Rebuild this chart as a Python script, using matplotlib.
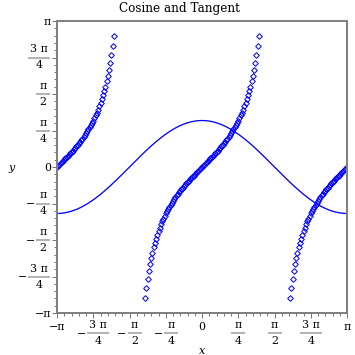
import numpy as np
import matplotlib
matplotlib.use("Agg")
import matplotlib.pyplot as plt
from matplotlib.lines import Line2D
from matplotlib.transforms import IdentityTransform

# sample points of the two curves
x_cos = np.linspace(-np.pi, np.pi, 400)
y_cos = np.cos(x_cos)
x_tan = np.linspace(-np.pi, np.pi, 241)
y_tan = np.tan(x_tan)
keep = np.abs(y_tan) <= 2.95
x_tan = x_tan[keep]
y_tan = y_tan[keep]

# ticks in units of pi, labels as (sign, numerator, denominator)
tick_vals = [-1, -0.75, -0.5, -0.25, 0, 0.25, 0.5, 0.75, 1]
tick_labels = [("−", "π", None), ("−", "3 π", "4"), ("−", "π", "2"),
               ("−", "π", "4"), ("", "0", None), ("", "π", "4"),
               ("", "π", "2"), ("", "3 π", "4"), ("", "π", None)]

W = H = 355
fig = plt.figure(figsize=(W / 72, H / 72), dpi=72)
ax = fig.add_axes([57 / W, (H - 313) / H, 290 / W, 292 / H])

ax.plot(x_cos, y_cos, color="#0000ff", lw=1.3)
ax.plot(x_tan, y_tan, ls="none", marker="D", ms=4, mfc="none",
        mec="#0000ff", mew=1)

ax.set_xlim(-np.pi, np.pi)
ax.set_ylim(-np.pi, np.pi)
ticks = [v * np.pi for v in tick_vals]
ax.set_xticks(ticks)
ax.set_yticks(ticks)
ax.set_xticks(np.arange(-20, 21) * np.pi / 20, minor=True)
ax.set_yticks(np.arange(-20, 21) * np.pi / 20, minor=True)
ax.set_xticklabels([])
ax.set_yticklabels([])
ax.tick_params(which="major", direction="out", length=5, width=1, color="#777777")
ax.tick_params(which="minor", direction="out", length=3, width=1, color="#777777")
for s in ax.spines.values():
    s.set_color("#808080")
    s.set_linewidth(2)

font = dict(family="DejaVu Serif", size=11, color="black")
ID = IdentityTransform()


def txt(xp, yp, s, ha, va="baseline", size=11, **kw):
    f = dict(font, size=size)
    fig.text(xp, H - yp, s, ha=ha, va=va, transform=ID, **f, **kw)


def bar(x0, x1, yp):
    fig.add_artist(Line2D([x0, x1], [H - yp, H - yp], color="#b4b4b4",
                          lw=2, transform=ID))


def frac(left, yb, num, den):
    w = 20 if len(num) > 1 else 12
    bar(left, left + w, yb)
    txt(left + w / 2, yb - 5, num, "center")
    txt(left + w / 2, yb + 11, den, "center")
    return w


ax_x = ax.transData.transform((-np.pi, 0))[0]
ax_y = H - ax.transData.transform((0, -np.pi))[1]

for v, (sg, num, den) in zip(ticks, tick_labels):
    # y axis
    yp = H - ax.transData.transform((0, v))[1]
    if den is None:
        txt(ax_x - 6, yp + 4, sg + num, "right")
    else:
        w = 20 if len(num) > 1 else 12
        right = ax_x - 8
        frac(right - w, yp, num, den)
        if sg:
            txt(right - w - 2, yp + 4, sg, "right")
    # x axis
    xp = ax.transData.transform((v, 0))[0]
    yb = ax_y + 20
    if den is None:
        txt(xp, yb - 3, sg + num, "center")
    else:
        w = 20 if len(num) > 1 else 12
        total = w + (10 if sg else 0)
        left = xp - total / 2
        if sg:
            txt(left + 3.5, yb + 4, sg, "center")
            left += 10
        frac(left, yb, num, den)

txt(W / 2 + 2, 12, "Cosine and Tangent", "center", size=12)
txt(12, 171, "y", "center", style="italic")
txt(ax.transData.transform((0, 0))[0], 354, "x", "center", style="italic")

fig.savefig("out.png", dpi=72)
